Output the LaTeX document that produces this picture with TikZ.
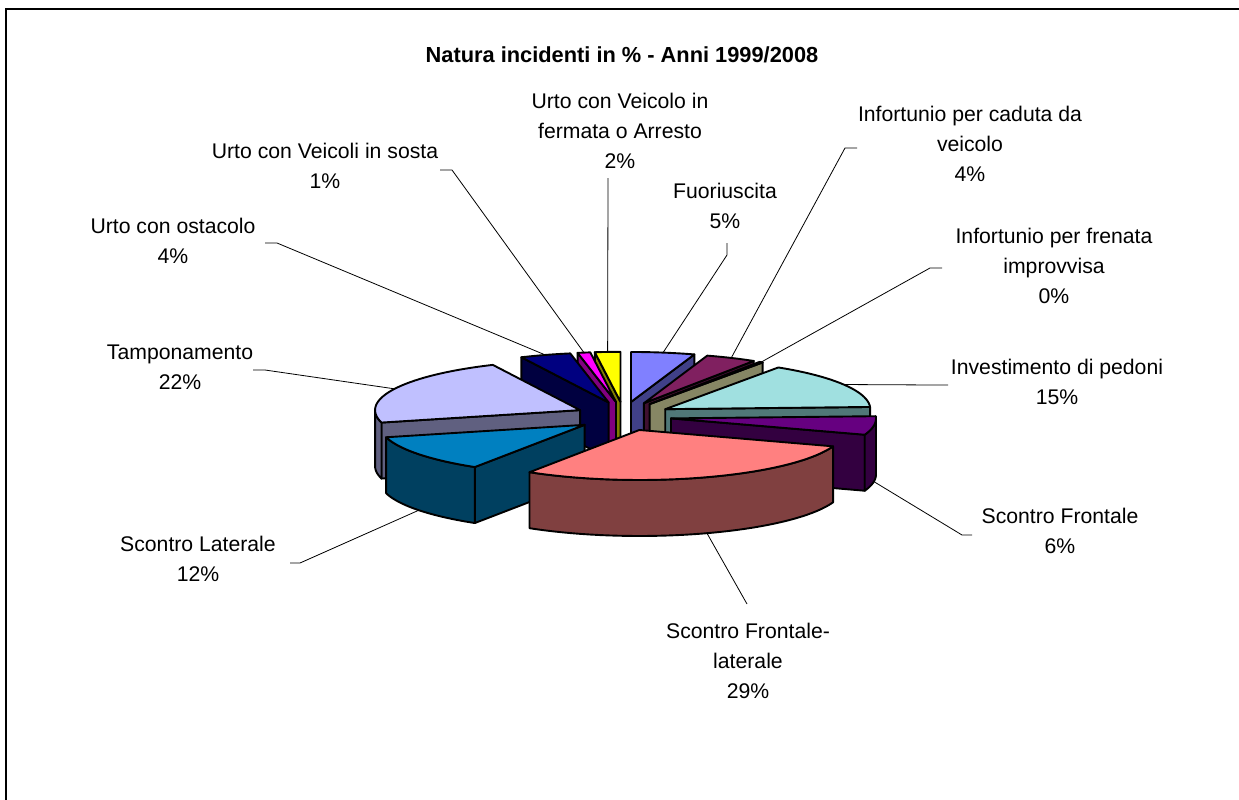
\documentclass[tikz,border=0pt]{standalone}
\usepackage{fontspec}
\setmainfont{Liberation Sans}
\newcommand\lbl[1]{\begin{tabular}{@{}c@{}}#1\end{tabular}}
\def\Cx{623.5}\def\Cy{416.3}\def\A{205}\def\B{50}\def\EX{48}\def\EY{14.5}\def\H{56}
\tikzset{
  face/.style={draw=black, line width=1.9pt, line join=round},
  leader/.style={draw=black, line width=0.8pt},
  lab/.style={inner sep=0pt, font=\fontsize{21.2}{30}\selectfont},
}
\newcommand\pieslice[5]{%
  \pgfmathsetmacro\mi{(#1+#2)/2}%
  \pgfmathsetmacro\ox{\Cx+\EX*sin(\mi)}%
  \pgfmathsetmacro\oy{\Cy-\EY*cos(\mi)}%
  \coordinate (#5-c) at (\ox,\oy);
  \coordinate (#5-m) at ({\ox+\A*sin(\mi)},{\oy-\B*cos(\mi)});
  \coordinate (#5-mb) at ({\ox+\A*sin(\mi)},{\oy-\B*cos(\mi)+\H});
  \pgfmathtruncatemacro\vs{sin(#1)<-0.0001 ? 1 : 0}%
  \ifnum\vs=1
    \filldraw[face, fill=#4] (\ox,\oy) -- ({\ox+\A*sin(#1)},{\oy-\B*cos(#1)}) -- ++(0,\H) -- (\ox,\oy+\H) -- cycle;
  \fi
  \pgfmathtruncatemacro\ve{sin(#2)>0.0001 ? 1 : 0}%
  \ifnum\ve=1
    \filldraw[face, fill=#4] (\ox,\oy) -- ({\ox+\A*sin(#2)},{\oy-\B*cos(#2)}) -- ++(0,\H) -- (\ox,\oy+\H) -- cycle;
  \fi
  \pgfmathsetmacro\lo{max(#1,90)}%
  \pgfmathsetmacro\hi{min(#2,270)}%
  \pgfmathtruncatemacro\va{\lo<\hi ? 1 : 0}%
  \ifnum\va=1
    \filldraw[face, fill=#4] plot[domain=\lo:\hi, samples=40] ({\ox+\A*sin(\x)},{\oy-\B*cos(\x)})
      -- plot[domain=\hi:\lo, samples=40] ({\ox+\A*sin(\x)},{\oy-\B*cos(\x)+\H}) -- cycle;
  \fi
  \filldraw[face, fill=#3] (\ox,\oy) -- plot[domain=#1:#2, samples=40] ({\ox+\A*sin(\x)},{\oy-\B*cos(\x)}) -- cycle;
}
\definecolor{cFt}{HTML}{8080FF}\definecolor{cFs}{HTML}{404088}
\definecolor{cCt}{HTML}{802060}\definecolor{cCs}{HTML}{401030}
\definecolor{cRt}{HTML}{FFFFC0}\definecolor{cRs}{HTML}{868664}
\definecolor{cIt}{HTML}{A0E0E0}\definecolor{cIs}{HTML}{507878}
\definecolor{cPt}{HTML}{660080}\definecolor{cPs}{HTML}{330040}
\definecolor{cSt}{HTML}{FF8080}\definecolor{cSs}{HTML}{804040}
\definecolor{cLt}{HTML}{0080C0}\definecolor{cLs}{HTML}{004060}
\definecolor{cTt}{HTML}{C0C0FF}\definecolor{cTs}{HTML}{606080}
\definecolor{cOt}{HTML}{000080}\definecolor{cOs}{HTML}{000040}
\definecolor{cMt}{HTML}{FF00FF}\definecolor{cMs}{HTML}{800080}
\definecolor{cYt}{HTML}{FFFF00}\definecolor{cYs}{HTML}{808000}
\begin{document}
\begin{tikzpicture}[x=1pt,y=-1pt]
\useasboundingbox (0,0) rectangle (1239,800);
\fill[white] (0,0) rectangle (1239,800);
\draw[line width=1.6pt] (6,800) -- (6,9) -- (1239,9);
% slices, back to front
\pieslice{352.8}{360}{cYt}{cYs}{Fe}
\pieslice{349.2}{352.8}{cMt}{cMs}{S}
\pieslice{0}{18}{cFt}{cFs}{F}
\pieslice{334.8}{349.2}{cOt}{cOs}{O}
\pieslice{18}{32.4}{cCt}{cCs}{C}
\pieslice{32.4}{33.48}{cRt}{cRs}{Fr}
\pieslice{33.48}{87.48}{cIt}{cIs}{I}
\pieslice{255.6}{334.8}{cTt}{cTs}{T}
\pieslice{87.48}{109.08}{cPt}{cPs}{SF}
\pieslice{212.4}{255.6}{cLt}{cLs}{L}
\pieslice{109.08}{212.4}{cSt}{cSs}{SFL}
% title
\node[inner sep=0pt, font=\fontsize{21.8}{24}\selectfont\bfseries] (title) at (622,55) {Natura incidenti in \% - Anni 1999/2008};
% labels
\node[lab] (tFe) at (620,132) {\lbl{Urto con Veicolo in\\fermata o Arresto\\2\%}};
\node[lab] (tS) at (325,167) {\lbl{Urto con Veicoli in sosta\\1\%}};
\node[lab] (tO) at (173,242) {\lbl{Urto con ostacolo\\4\%}};
\node[lab] (tT) at (180,368) {\lbl{Tamponamento\\22\%}};
\node[lab] (tC) at (970,145) {\lbl{Infortunio per caduta da\\veicolo\\4\%}};
\node[lab] (tF) at (725,207) {\lbl{Fuoriuscita\\5\%}};
\node[lab] (tFr) at (1054,267) {\lbl{Infortunio per frenata\\improvvisa\\0\%}};
\node[lab] (tI) at (1057,383) {\lbl{Investimento di pedoni\\15\%}};
\node[lab] (tSF) at (1060,532) {\lbl{Scontro Frontale\\6\%}};
\node[lab] (tSFL) at (748,662) {\lbl{Scontro Frontale-\\laterale\\29\%}};
\node[lab] (tL) at (198,560) {\lbl{Scontro Laterale\\12\%}};
% leader lines
\coordinate (eFe) at (608,178);
\coordinate (eS) at (440,170);
\coordinate (eO) at (265,243);
\coordinate (eT) at (253,370);
\coordinate (eL) at (290,563);
\coordinate (eSFL) at (747,604);
\coordinate (eSF) at (972,535);
\coordinate (eI) at (948,385);
\coordinate (eFr) at (942,268);
\coordinate (eC) at (857,148);
\coordinate (eF) at (727,243);
\draw[leader] (eFe) -- (Fe-m);
\draw[leader] (eS) -- ++(12,0) -- (S-m);
\draw[leader] (eO) -- ++(12,0) -- (O-m);
\draw[leader] (eT) -- ++(12,0) -- (T-m);
\draw[leader] (eL) -- ++(10,0) -- (L-mb);
\draw[leader] (eSFL) -- (SFL-mb);
\draw[leader] (eSF) -- ++(-10,0) -- (SF-mb);
\draw[leader] (eI) -- ++(-12,0) -- (I-m);
\draw[leader] (eFr) -- ++(-12,0) -- (Fr-m);
\draw[leader] (eC) -- ++(-12,0) -- (C-m);
\draw[leader] (eF) -- ++(0,12) -- (F-m);
\end{tikzpicture}
\end{document}
